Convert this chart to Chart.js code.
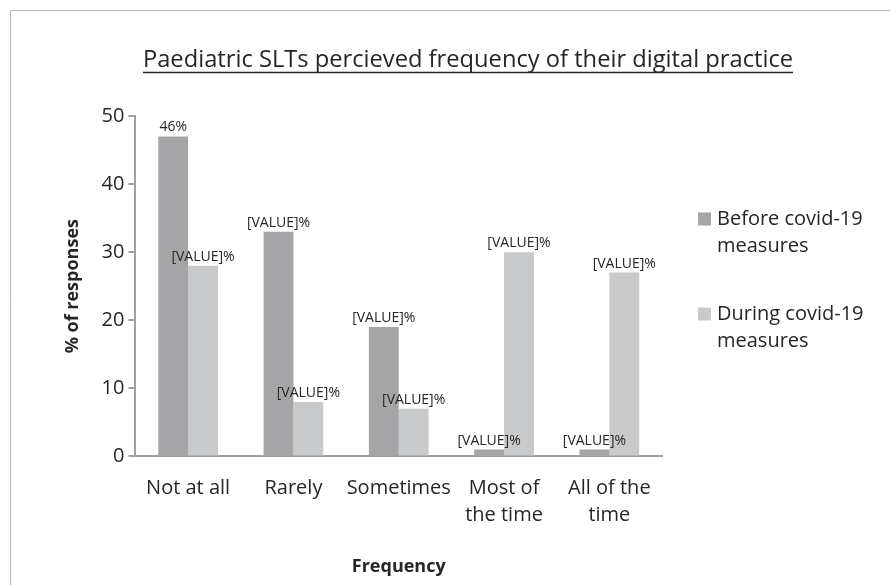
<!DOCTYPE html>
<html lang="en">
<head>
  <meta charset="UTF-8" />
  <title>Digital Practice Frequency</title>
  <script src="https://cdn.jsdelivr.net/npm/chart.js"></script>
  <style>
    body { margin: 0; background: #fff; }
    #wrap { width: 890px; height: 585px; }
  </style>
</head>
<body>
  <div id="wrap"><canvas id="freqChart" width="890" height="585"></canvas></div>

  <script>
    const categories = ['Not at all', 'Rarely', 'Sometimes', ['Most of', 'the time'], ['All of the', 'time']];
    const beforeValues = [47, 33, 19, 1, 1];
    const duringValues = [28, 8, 7, 30, 27];
    const beforeLabels = ['46%', '[VALUE]%', '[VALUE]%', '[VALUE]%', '[VALUE]%'];
    const duringLabels = ['[VALUE]%', '[VALUE]%', '[VALUE]%', '[VALUE]%', '[VALUE]%'];
    const seriesNames = [['Before covid-19', 'measures'], ['During covid-19', 'measures']];
    const chartTitle = 'Paediatric SLTs percieved frequency of their digital practice';

    const FONT = 'Open Sans';
    const TEXT = '#262626';

    // frame, underlined title, bar value labels and the wrapped legend
    const extras = {
      id: 'extras',
      beforeDraw(chart) {
        const ctx = chart.ctx;
        ctx.save();
        ctx.strokeStyle = '#b8b8b8';
        ctx.lineWidth = 1;
        ctx.beginPath();
        ctx.moveTo(10.5, 585);
        ctx.lineTo(10.5, 10.5);
        ctx.lineTo(890, 10.5);
        ctx.stroke();
        ctx.restore();
      },
      afterDraw(chart) {
        const ctx = chart.ctx;
        ctx.save();

        // title + underline
        ctx.font = '23.7px "' + FONT + '"';
        ctx.fillStyle = TEXT;
        ctx.textAlign = 'center';
        ctx.textBaseline = 'alphabetic';
        const cx = 468;
        ctx.fillText(chartTitle, cx, 67);
        const tw = ctx.measureText(chartTitle).width;
        ctx.strokeStyle = TEXT;
        ctx.lineWidth = 1.5;
        ctx.beginPath();
        ctx.moveTo(cx - tw / 2, 72.5);
        ctx.lineTo(cx + tw / 2, 72.5);
        ctx.stroke();

        // value labels
        const allLabels = [beforeLabels, duringLabels];
        ctx.font = '14px "' + FONT + '"';
        ctx.textBaseline = 'bottom';
        chart.data.datasets.forEach((ds, i) => {
          chart.getDatasetMeta(i).data.forEach((bar, j) => {
            ctx.fillText(allLabels[i][j], bar.x, bar.y - 2);
          });
        });

        // legend
        ctx.font = '20px "' + FONT + '"';
        ctx.textAlign = 'left';
        ctx.textBaseline = 'middle';
        const lx = chart.chartArea.right + 36;
        const tops = [219, 314];
        chart.data.datasets.forEach((ds, i) => {
          ctx.fillStyle = ds.backgroundColor;
          ctx.fillRect(lx, tops[i] - 6.5, 13, 13);
          ctx.fillStyle = TEXT;
          seriesNames[i].forEach((line, k) => {
            ctx.fillText(line, lx + 19, tops[i] + k * 27);
          });
        });
        ctx.restore();
      }
    };

    new Chart(document.getElementById('freqChart'), {
      type: 'bar',
      data: {
        labels: categories,
        datasets: [
          {
            label: 'Before covid-19 measures',
            data: beforeValues,
            backgroundColor: '#a5a5a8',
            categoryPercentage: 0.567,
            barPercentage: 1
          },
          {
            label: 'During covid-19 measures',
            data: duringValues,
            backgroundColor: '#c8c9cb',
            categoryPercentage: 0.567,
            barPercentage: 1
          }
        ]
      },
      options: {
        responsive: false,
        animation: false,
        layout: {
          padding: { left: 62, right: 228, top: 116, bottom: 7 }
        },
        plugins: {
          legend: { display: false },
          tooltip: { enabled: false },
          title: { display: false }
        },
        scales: {
          x: {
            grid: { display: false },
            border: { display: true, color: '#a0a0a0', width: 2 },
            ticks: {
              color: TEXT,
              font: { family: FONT, size: 20, lineHeight: 1.35 },
              maxRotation: 0,
              autoSkip: false,
              padding: 10
            },
            title: {
              display: true,
              text: 'Frequency',
              color: TEXT,
              font: { family: FONT, size: 18, weight: 'bold' },
              padding: { top: 18, bottom: 0 }
            }
          },
          y: {
            min: 0,
            max: 50,
            ticks: {
              stepSize: 10,
              color: TEXT,
              font: { family: FONT, size: 20 },
              padding: 4
            },
            grid: {
              drawOnChartArea: false,
              color: '#a0a0a0',
              tickLength: 7,
              lineWidth: 2
            },
            border: { display: true, color: '#a0a0a0', width: 2 },
            title: {
              display: true,
              text: '% of responses',
              color: TEXT,
              font: { family: FONT, size: 18, weight: 'bold' },
              padding: { top: 0, bottom: 14 }
            }
          }
        }
      },
      plugins: [extras]
    });
  </script>
</body>
</html>
